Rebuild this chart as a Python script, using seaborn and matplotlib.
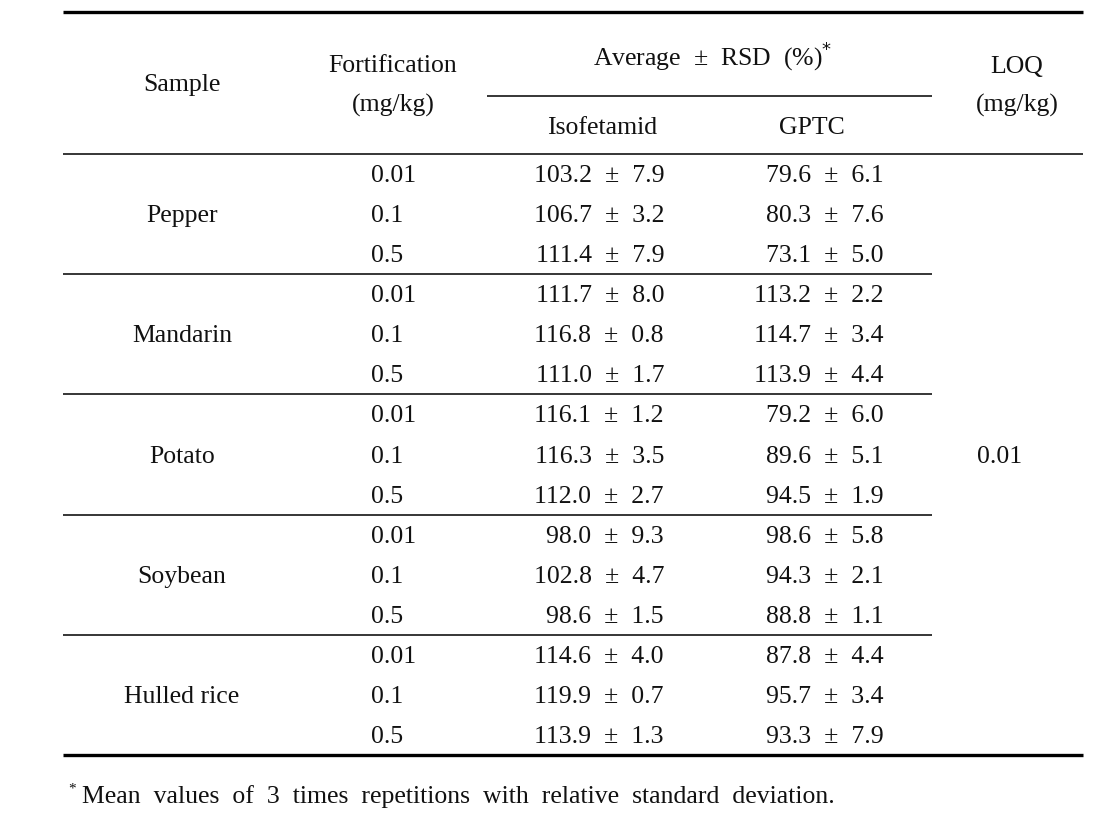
import numpy as np
import pandas as pd
import seaborn as sns
import matplotlib.pyplot as plt

# table contents
samples = ['Pepper', 'Mandarin', 'Potato', 'Soybean', 'Hulled rice']
fortification = ['0.01', '0.1', '0.5']
iso_mean = [103.2, 106.7, 111.4, 111.7, 116.8, 111.0, 116.1, 116.3, 112.0,
            98.0, 102.8, 98.6, 114.6, 119.9, 113.9]
iso_rsd = [7.9, 3.2, 7.9, 8.0, 0.8, 1.7, 1.2, 3.5, 2.7, 9.3, 4.7, 1.5, 4.0, 0.7, 1.3]
gptc_mean = [79.6, 80.3, 73.1, 113.2, 114.7, 113.9, 79.2, 89.6, 94.5,
             98.6, 94.3, 88.8, 87.8, 95.7, 93.3]
gptc_rsd = [6.1, 7.6, 5.0, 2.2, 3.4, 4.4, 6.0, 5.1, 1.9, 5.8, 2.1, 1.1, 4.4, 3.4, 7.9]
loq = '0.01'
footnote = 'Mean values of 3 times repetitions with relative standard deviation.'

df = pd.DataFrame({
    'sample': np.repeat(samples, len(fortification)),
    'fort': fortification * len(samples),
    'iso': [f'{m:.1f}  \u00b1  {r:.1f}' for m, r in zip(iso_mean, iso_rsd)],
    'gptc': [f'{m:.1f}  \u00b1  {r:.1f}' for m, r in zip(gptc_mean, gptc_rsd)],
})

sns.set_theme(style='white')
plt.rcParams['font.family'] = ['Liberation Serif', 'DejaVu Serif']
plt.rcParams['text.color'] = '#111111'

fig = plt.figure(figsize=(11.1, 8.34), dpi=100)
ax = fig.add_axes([0, 0, 1, 1])
ax.set_xlim(0, 1110)
ax.set_ylim(834, 0)
ax.axis('off')

fs = 18.5
x0, x1 = 63, 1083
body_top, body_bot = 154, 755
row_h = (body_bot - body_top) / len(df)

# rules
ax.hlines(12, x0, x1, color='black', lw=2.4)
ax.hlines(96, 487, 932, color='black', lw=1.1)
ax.hlines(body_top, x0, x1, color='black', lw=1.1)
ax.hlines(body_bot, x0, x1, color='black', lw=2.4)
for g in range(1, len(samples)):
    ax.hlines(body_top + g * 3 * row_h, x0, 932, color='black', lw=1.1)

# header
ax.text(182, 85, 'Sample', ha='center', va='center', fontsize=fs)
ax.text(393, 66, 'Fortification', ha='center', va='center', fontsize=fs)
ax.text(393, 105, '(mg/kg)', ha='center', va='center', fontsize=fs)
ax.text(713, 56, 'Average  \u00b1  RSD  (%)$^{*}$', ha='center', va='center', fontsize=fs)
ax.text(602, 128, 'Isofetamid', ha='center', va='center', fontsize=fs)
ax.text(812, 128, 'GPTC', ha='center', va='center', fontsize=fs)
ax.text(1017, 67, 'LOQ', ha='center', va='center', fontsize=fs)
ax.text(1017, 105, '(mg/kg)', ha='center', va='center', fontsize=fs)

# body
dy = 2
for i, row in df.iterrows():
    y = body_top + (i + 0.5) * row_h + dy
    ax.text(371, y, row['fort'], ha='left', va='center', fontsize=fs)
    ax.text(664, y, row['iso'], ha='right', va='center', fontsize=fs)
    ax.text(884, y, row['gptc'], ha='right', va='center', fontsize=fs)
for g, s in enumerate(samples):
    y = body_top + (g * 3 + 1.5) * row_h + dy
    ax.text(182, y, s, ha='center', va='center', fontsize=fs)
ax.text(1000, (body_top + body_bot) / 2 + dy, loq, ha='center', va='center', fontsize=fs)

# footnote
ax.text(68, 789, '*', ha='left', va='center', fontsize=11)
ax.text(82, 797, footnote.replace(' ', '  '), ha='left', va='center', fontsize=fs)

fig.savefig('out.png', dpi=100, facecolor='white')
